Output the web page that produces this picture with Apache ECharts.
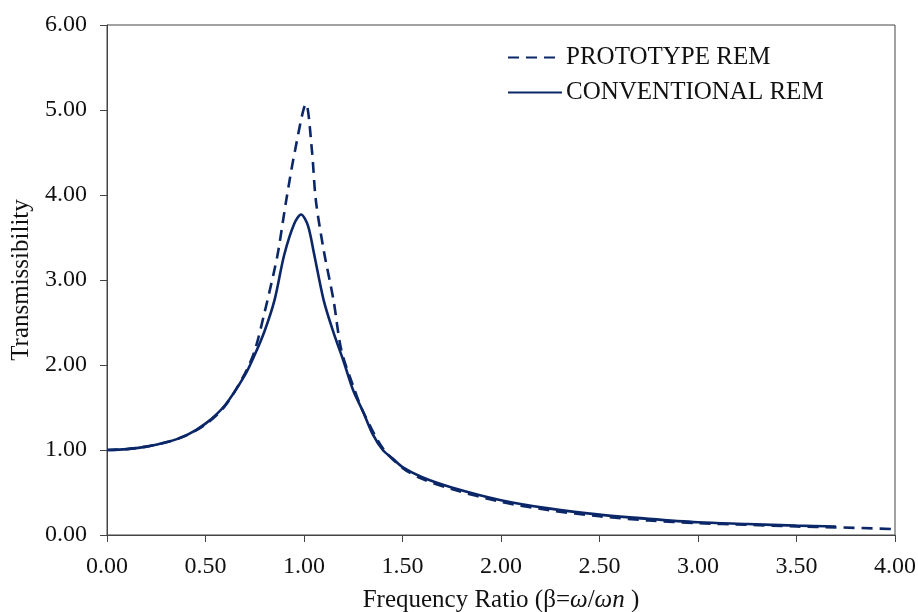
<!DOCTYPE html>
<html><head><meta charset="utf-8">
<script src="https://cdn.jsdelivr.net/npm/echarts@6/dist/echarts.min.js"></script>
<style>html,body{margin:0;padding:0;background:#fff}#c{width:918px;height:612px}</style>
</head><body><div id="c"></div>
<script>
// Conventional REM (solid)
const convX = [0,0.1,0.2,0.3,0.4,0.5,0.6,0.7,0.75,0.8,0.85,0.9,0.95,0.985,1.02,1.05,1.1,1.15,1.2,1.25,1.3,1.35,1.4,1.45,1.5,1.6,1.75,2.0,2.25,2.5,2.75,3.0,3.25,3.5,3.7];
const convY = [1.00,1.01,1.04,1.09,1.17,1.31,1.53,1.88,2.12,2.40,2.76,3.30,3.66,3.77,3.64,3.32,2.76,2.38,2.05,1.70,1.45,1.18,1.00,0.90,0.80,0.68,0.56,0.41,0.31,0.24,0.19,0.15,0.13,0.11,0.10];
// Prototype REM (dashed)
const protoX = [0,0.1,0.2,0.3,0.4,0.5,0.6,0.7,0.75,0.8,0.85,0.87,0.91,0.955,1.01,1.04,1.06,1.1,1.15,1.19,1.25,1.3,1.4,1.5,1.6,1.75,2.0,2.25,2.5,2.75,3.0,3.25,3.5,3.7,4.0];
const protoY = [1.00,1.01,1.04,1.09,1.17,1.30,1.52,1.90,2.17,2.62,3.12,3.35,3.94,4.53,5.07,4.53,3.94,3.35,2.76,2.17,1.75,1.45,1.02,0.79,0.66,0.54,0.39,0.29,0.22,0.17,0.14,0.12,0.10,0.09,0.07];
const xTicks = {min:0, max:4, interval:0.5};
const yTicks = {min:0, max:6, interval:1};
const names = ['PROTOTYPE REM','CONVENTIONAL REM'];

const col = '#0b2768';
const font = 'Liberation Serif';
const chart = echarts.init(document.getElementById('c'));
const zip = (xs, ys) => xs.map((x,i)=>[x, ys[i]]);
chart.setOption({
  animation:false,
  grid:{left:107, right:23, top:25, bottom:77, show:true, borderColor:'#444', borderWidth:1,
        containLabel:false, outerBoundsMode:'none'},
  legend:{
    data:names, orient:'vertical', left:502, top:40, itemWidth:54, itemHeight:14, itemGap:10,
    itemStyle:{opacity:0, borderWidth:0},
    textStyle:{fontFamily:font, fontSize:25, color:'#111', padding:[0,0,0,-1]}
  },
  xAxis:{
    type:'value', min:xTicks.min, max:xTicks.max, interval:xTicks.interval,
    axisLine:{lineStyle:{color:'#444', width:1}},
    axisTick:{inside:false, length:7, lineStyle:{color:'#444'}},
    splitLine:{show:false},
    axisLabel:{fontFamily:font, fontSize:24, color:'#111', margin:20, formatter:v=>v.toFixed(2)},
    name:'{t|Frequency Ratio (β=}{i|ω}{t|/}{i|ωn}{t| )}',
    nameLocation:'middle', nameGap:53,
    nameTextStyle:{rich:{t:{fontFamily:font, fontSize:25, color:'#111'}, i:{fontFamily:font, fontStyle:'italic', fontSize:25, color:'#111'}}}
  },
  yAxis:{
    type:'value', min:yTicks.min, max:yTicks.max, interval:yTicks.interval,
    axisLine:{show:true, lineStyle:{color:'#444', width:1}},
    axisTick:{show:true, inside:false, length:7, lineStyle:{color:'#444'}},
    splitLine:{show:false},
    axisLabel:{fontFamily:font, fontSize:24, color:'#111', margin:20, formatter:v=>v.toFixed(2)},
    name:'Transmissibility', nameLocation:'middle', nameGap:71,
    nameTextStyle:{fontFamily:font, fontSize:25, color:'#111'}
  },
  series:[
    {name:names[0], type:'line', data:zip(protoX, protoY), symbol:'none', smooth:0.3,
     lineStyle:{color:col, width:2.6, type:[11,7]}, itemStyle:{color:col}, z:3},
    {name:names[1], type:'line', data:zip(convX, convY), symbol:'none', smooth:0.3,
     lineStyle:{color:col, width:2.6, type:'solid'}, itemStyle:{color:col}, z:2}
  ]
});
</script></body></html>
